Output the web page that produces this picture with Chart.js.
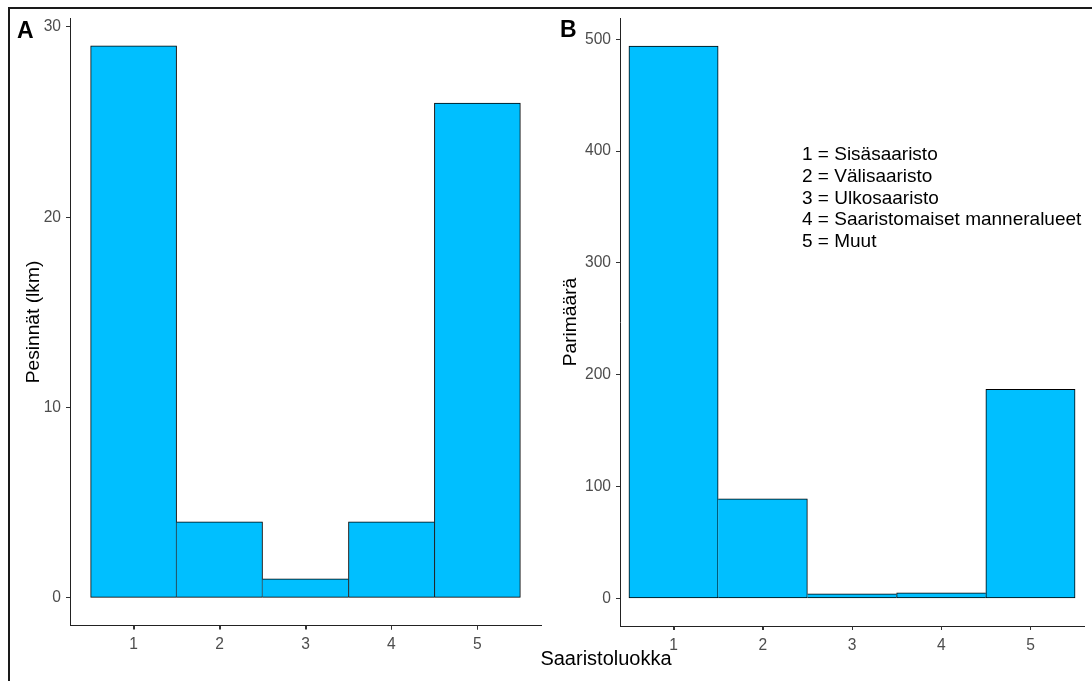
<!DOCTYPE html>
<html><head><meta charset="utf-8">
<script src="https://cdn.jsdelivr.net/npm/chart.js@4"></script>
<style>
body{margin:0;width:1092px;height:681px;overflow:hidden;background:#fff;font-family:"Liberation Sans",Arial,sans-serif;position:relative}
.frame{position:absolute;left:8px;top:7px;width:1200px;height:800px;border:2px solid #1a1a1a;box-sizing:border-box}
.box{position:absolute;top:0;width:546px;height:681px}
.t{position:absolute;white-space:nowrap;color:#000}
.rot{position:absolute;white-space:nowrap;line-height:1;font-size:19.2px;transform:translate(-50%,-50%) rotate(-90deg);color:#000}
.lab{position:absolute;font-weight:bold;font-size:23px;line-height:1;color:#000}
.leg{position:absolute;left:802px;top:143.3px;font-size:19px;line-height:21.67px;color:#000}
</style></head>
<body>
<div class="frame"></div>
<div class="box" style="left:0"><canvas id="cA" width="546" height="681"></canvas></div>
<div class="box" style="left:546px"><canvas id="cB" width="546" height="681"></canvas></div>
<div class="lab" style="left:17px;top:18.5px">A</div>
<div class="lab" style="left:560px;top:18.3px">B</div>
<div class="rot" style="left:32.5px;top:321.5px">Pesinnät (lkm)</div>
<div class="rot" style="left:570px;top:321.5px">Parimäärä</div>
<div class="t" style="left:606px;top:648px;font-size:20px;line-height:1;transform:translateX(-50%)">Saaristoluokka</div>
<div class="leg" id="leg"></div>
<script>
const categories = [1, 2, 3, 4, 5];
const xTickLabels = ['1', '2', '3', '4', '5'];
const nestsA = [29, 4, 1, 4, 26];
const pairsB = [494, 89, 4, 5, 187];
const yTicksA = [0, 10, 20, 30];
const yTicksB = [0, 100, 200, 300, 400, 500];
const legendLines = ['1 = Sisäsaaristo', '2 = Välisaaristo', '3 = Ulkosaaristo', '4 = Saaristomaiset manneralueet', '5 = Muut'];

document.getElementById('leg').innerHTML = legendLines.map(s => '<div>' + s + '</div>').join('');

const FONT = '"Liberation Sans", Arial, sans-serif';

function borderFn(ctx) {
  if (ctx.dataIndex === undefined) return 1;
  const d = ctx.dataset.data, i = ctx.dataIndex, v = d[i].y;
  const l = i === 0 ? -Infinity : d[i - 1].y;
  const r = i === d.length - 1 ? -Infinity : d[i + 1].y;
  return { top: 1, bottom: 1, left: v >= l ? 1 : 0, right: v > r ? 1 : 0 };
}

// draws the x-axis tick marks at each tick of the x scale
const xTickMarks = {
  id: 'xTickMarks',
  afterDraw(chart) {
    const s = chart.scales.x, c = chart.ctx;
    c.save();
    c.strokeStyle = '#333';
    c.lineWidth = 1;
    c.beginPath();
    s.ticks.forEach((t, i) => {
      const px = Math.round(s.getPixelForTick(i)) + 0.5;
      c.moveTo(px, s.top);
      c.lineTo(px, s.top + 4);
    });
    c.stroke();
    c.restore();
  }
};

function makeChart(id, values, yTicks, yMin, yMax, xMin, xMax, area) {
  const W = 546, H = 681;
  return new Chart(document.getElementById(id), {
    type: 'bar',
    data: {
      datasets: [{
        data: categories.map((c, i) => ({ x: c, y: values[i] })),
        backgroundColor: '#00BFFF',
        borderColor: '#000000',
        borderWidth: borderFn,
        borderSkipped: false,
        barPercentage: 1,
        categoryPercentage: 1
      }]
    },
    plugins: [xTickMarks],
    options: {
      responsive: false,
      animation: false,
      devicePixelRatio: 1,
      layout: { padding: { left: 0, top: area.top, right: W - area.right, bottom: 0 } },
      plugins: { legend: { display: false }, tooltip: { enabled: false } },
      scales: {
        x: {
          type: 'linear', min: xMin, max: xMax, offset: false,
          afterBuildTicks: s => { s.ticks = categories.map(v => ({ value: v })); },
          afterFit: s => { s.height = H - area.bottom; },
          grid: { display: true, offset: false, drawOnChartArea: false, drawTicks: true, tickLength: 4, color: '#333', tickColor: '#333', tickWidth: 1, lineWidth: 1 },
          border: { display: true, color: '#222', width: 1 },
          ticks: {
            autoSkip: false, maxRotation: 0, padding: 6, color: '#4d4d4d',
            font: { family: FONT, size: 15.6 },
            callback: (v) => xTickLabels[categories.indexOf(v)]
          }
        },
        y: {
          type: 'linear', min: yMin, max: yMax,
          afterBuildTicks: s => { s.ticks = yTicks.map(v => ({ value: v })); },
          afterFit: s => { s.width = area.left; },
          grid: { display: true, drawOnChartArea: false, drawTicks: true, tickLength: 4, color: '#333', tickColor: '#333', tickWidth: 1, lineWidth: 1 },
          border: { display: true, color: '#222', width: 1 },
          ticks: {
            padding: 5, color: '#4d4d4d',
            font: { family: FONT, size: 15.6 },
            callback: v => String(v)
          }
        }
      }
    }
  });
}

makeChart('cA', nestsA, yTicksA, -1.45, 30.45, 0.26, 5.74, { left: 70, right: 541, top: 18.3, bottom: 625.5 });
makeChart('cB', pairsB, yTicksB, -24.7, 518.7, 0.4, 5.6, { left: 74, right: 538, top: 18.4, bottom: 626 });
</script>
</body></html>
